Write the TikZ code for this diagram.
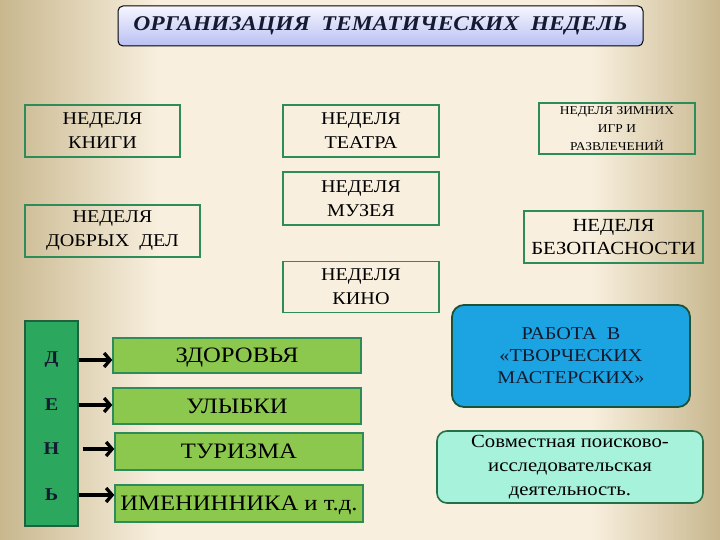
\documentclass[tikz,border=0pt]{standalone}
\usepackage{fontspec}
\setmainfont[FakeStretch=1.12]{Liberation Serif}
\usetikzlibrary{arrows.meta}

\definecolor{bgedge}{HTML}{C8B78E}
\definecolor{bgmid}{HTML}{F8EFDE}
\definecolor{boxline}{HTML}{2E8B5A}
\definecolor{leafgreen}{HTML}{8CC84E}
\definecolor{dengreen}{HTML}{2BA85E}
\definecolor{skyblue}{HTML}{1BA3E2}
\definecolor{mintfill}{HTML}{A6F2DA}
\definecolor{titletop}{HTML}{F6F6FF}
\definecolor{titlebot}{HTML}{B9C0F2}
\definecolor{darkink}{HTML}{141A30}
\pgfdeclarehorizontalshading{bgshade}{100bp}{color(0bp)=(bgedge); color(25bp)=(bgedge); color(36bp)=(bgmid); color(66bp)=(bgmid); color(75bp)=(bgedge); color(100bp)=(bgedge)}

\begin{document}
\begin{tikzpicture}[x=1pt, y=-1pt,
    titlebox/.style={draw=black, line width=1pt, rounded corners=5pt, top color=titletop, bottom color=titlebot,
      text=darkink, font=\fontsize{21}{24}\selectfont\bfseries\itshape},
    weekbox/.style={draw=boxline, line width=1.6pt, align=center, inner sep=0pt, font=\fontsize{18}{24}\selectfont},
    daybox/.style={draw=boxline, line width=1.4pt, fill=leafgreen, inner sep=0pt, font=\fontsize{22}{24}\selectfont,
      minimum width=248pt, text height=14pt, text depth=0pt},
    dayletter/.style={font=\fontsize{18}{18}\selectfont\bfseries, text=darkink},
    dayarrow/.style={line width=3.3pt, -{Straight Barb[length=6pt, width=14pt]}}]
  \useasboundingbox (0,0) rectangle (720,540);
  \shade[shading=bgshade] (0,0) rectangle (720,540);

  \node[titlebox, minimum width=525pt, minimum height=40pt] (title) at (380.5,26)
    {ОРГАНИЗАЦИЯ\ \ ТЕМАТИЧЕСКИХ\ \ НЕДЕЛЬ};

  % weeks
  \node[weekbox, minimum width=155pt, minimum height=52pt] (knigi) at (102.5,131) {НЕДЕЛЯ\\КНИГИ};
  \node[weekbox, minimum width=175pt, minimum height=52pt] (dobro) at (112.5,231) {НЕДЕЛЯ\\ДОБРЫХ\ \ ДЕЛ};
  \node[weekbox, minimum width=156pt, minimum height=52pt] (teatr) at (361,131) {НЕДЕЛЯ\\ТЕАТРА};
  \node[weekbox, minimum width=156pt, minimum height=53pt] (muzey) at (361,198.5) {НЕДЕЛЯ\\МУЗЕЯ};
  \node[weekbox, minimum width=156pt, minimum height=51pt] (kino) at (361,287) {НЕДЕЛЯ\\КИНО};
  \node[weekbox, minimum width=156pt, minimum height=51pt, font=\fontsize{12}{18}\selectfont] (zima) at (617,128.5)
    {НЕДЕЛЯ ЗИМНИХ\\ИГР И\\РАЗВЛЕЧЕНИЙ};
  \node[weekbox, minimum width=179pt, minimum height=52pt, font=\fontsize{18.5}{23}\selectfont] (bezop) at (613.5,237)
    {НЕДЕЛЯ\\БЕЗОПАСНОСТИ};

  % days
  \node[draw=boxline!70!black, line width=1.4pt, fill=dengreen, minimum width=53pt, minimum height=205pt] (den) at (51.5,423.5) {};
  \node[dayletter] (d1) at (51.5,360) {Д};
  \node[dayletter] (d2) at (51.5,405) {Е};
  \node[dayletter] (d3) at (51.5,449) {Н};
  \node[dayletter] (d4) at (51.5,495) {Ь};
  \node[daybox, minimum height=35pt] (zdorov) at (237,355.5) {ЗДОРОВЬЯ};
  \node[daybox, minimum height=36pt] (ulyb) at (237,406) {УЛЫБКИ};
  \node[daybox, minimum height=37pt] (turizm) at (239,451.5) {ТУРИЗМА};
  \node[daybox, minimum height=37pt] (imen) at (239,503.5) {ИМЕНИННИКА и т.д.};
  \draw[dayarrow] (den.east |- d1) -- (zdorov.west |- d1);
  \draw[dayarrow] (den.east |- d2) -- (ulyb.west |- d2);
  \draw[dayarrow] ([xshift=4pt]den.east |- d3) -- (turizm.west |- d3);
  \draw[dayarrow] (den.east |- d4) -- (imen.west |- d4);

  \node[draw=boxline!60!black, line width=1.8pt, fill=skyblue, rounded corners=12pt, align=center, text=darkink,
    minimum width=238pt, minimum height=102pt, font=\fontsize{18}{22}\selectfont] (master) at (571,356)
    {РАБОТА\ \ В\\«ТВОРЧЕСКИХ\\МАСТЕРСКИХ»};
  \node[draw=boxline!80!black, line width=1.6pt, fill=mintfill, rounded corners=10pt, align=center,
    minimum width=266pt, minimum height=72pt, font=\fontsize{18.5}{24}\selectfont] (poisk) at (570,467)
    {Совместная поисково-\\исследовательская\\деятельность.};
\end{tikzpicture}
\end{document}
